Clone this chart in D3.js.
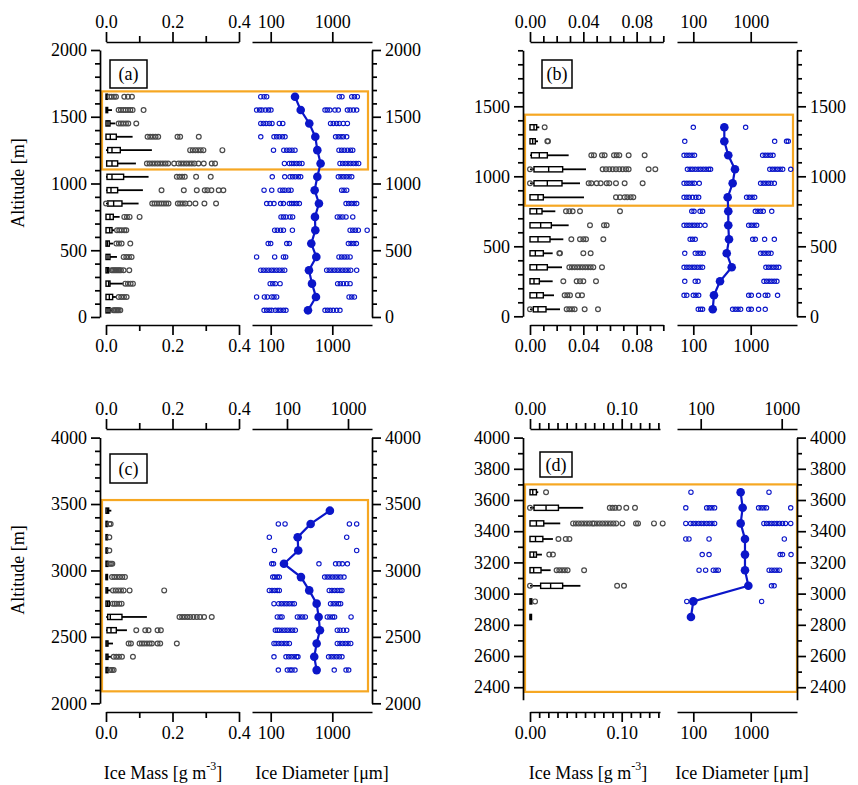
<!DOCTYPE html>
<html>
<head>
<meta charset="utf-8">
<script src="https://cdn.jsdelivr.net/npm/d3@7"></script>
<style>
  body { margin: 0; background: #fff; }
</style>
</head>
<body>
<svg id="fig" width="858" height="785"></svg>
<script>
// ---------------- Panel (a) ----------------
const aAltitude = [1650,1550,1450,1350,1250,1150,1050,950,850,750,650,550,450,350,250,150,50];
// ice mass box stats per level: [min, q1, median, q3, whisker max]
const aMassBox = [
  [0,0,0.002,0.004,0.006],[0,0,0.002,0.005,0.018],[0,0,0.006,0.012,0.028],[0,0,0.013,0.031,0.080],
  [0,0.005,0.018,0.043,0.138],[0,0.002,0.018,0.035,0.090],[0,0.003,0.018,0.053,0.128],[0,0.003,0.015,0.035,0.111],
  [0,0.005,0.023,0.048,0.098],[0,0,0.012,0.022,0.041],[0,0,0.011,0.018,0.025],[0,0,0.004,0.010,0.021],
  [0,0,0.006,0.012,0.033],[0,0,0.004,0.008,0.014],[0,0,0.008,0.012,0.053],[0,0,0.010,0.020,0.030],[0,0,0.006,0.012,0.018]
];
const aMassOut = [
  [0.011,0.017,0.024,0.030,0.055,0.066,0.078],
  [0.038,0.045,0.052,0.059,0.066,0.073,0.080,0.113],
  [0.038,0.045,0.052,0.060,0.067,0.091],
  [0.125,0.133,0.141,0.149,0.157,0.215,0.223,0.279],
  [0.253,0.261,0.269,0.277,0.285,0.293,0.350],
  [0.123,0.131,0.139,0.147,0.155,0.163,0.171,0.179,0.187,0.205,0.218,0.226,0.234,0.242,0.250,0.258,0.266,0.278,0.294,0.318,0.328],
  [0.213,0.221,0.229,0.237,0.271,0.315],
  [0.167,0.234,0.273,0.297,0.305,0.317,0.339,0.353],
  [0,0.139,0.146,0.153,0.160,0.167,0.174,0.181,0.188,0.216,0.223,0.231,0.239,0.251,0.269,0.296,0.331],
  [0.055,0.063,0.071,0.101],
  [0.033,0.040,0.047,0.055,0.061],
  [0.031,0.039,0.047,0.073],
  [0.053,0.061,0.069,0.077],
  [0.017,0.021,0.025,0.029,0.033,0.037,0.041,0.045,0.053,0.070],
  [0.058,0.066,0.074,0.081],
  [0.038,0.046,0.054,0.062],
  [0.022,0.026,0.030,0.034,0.038,0.043]
];
const aDiamMedian = [248,307,423,530,571,646,571,517,607,523,530,456,550,418,468,543,403];
const aDiamOut = [
  [69,78,86,1299,1436,2069,2284,2550],
  [59,66,72,82,92,101,761,828,914,1103,1252,1757,1944,2201,2487],
  [69,76,84,95,105,138,157,937,1036,1175,1299,1510,1757],
  [69,113,125,138,155,171,1131,1252,1385,1510,1713],
  [111,163,182,201,222,248,1283,1419,1569,1757,1968,2148],
  [167,201,219,239,264,292,322,1332,1473,1629,1801,1992,2201,2430,2678],
  [106,169,206,227,251,281,307,1252,1385,1530,1692,1871,2069],
  [78,104,142,157,171,194,214,1419,1549,1713],
  [86,98,113,145,161,201,219,239,264,292,1670,1847,2043,2256,2487],
  [147,161,177,206,227,1205,1332,1473,1670,2148],
  [116,128,145,161,225,1944,2148,2371,2645,3680],
  [91,100,182,201,1824,2017,2228,2460],
  [59,116,161,175,1283,1419,1569,1735,1944],
  [69,76,84,93,103,113,125,138,153,169,810,892,985,1089,1205,1332,1473,1629,1801,1992,2487],
  [98,108,119,142,1221,1349,1510,1713,1944],
  [59,79,88,104,113,125,1871,2069,2284],
  [78,86,95,104,119,132,145,161,177,761,838,925,1036,1175,1332]
];
const aCloudLayer = [1105, 1690];
const aAltTicks = [0,500,1000,1500,2000];

// ---------------- Panel (b) ----------------
const bAltitude = [1350,1250,1150,1050,950,850,750,650,550,450,350,250,150,50];
const bMassBox = [
  [0,0,0.003,0.005,0.007],[0,0,0.002,0.004,0.006],[0,0.001,0.007,0.013,0.029],[0,0.003,0.014,0.0245,0.042],
  [0,0.003,0.013,0.024,0.0375],[0,0,0.006,0.010,0.0405],[0,0,0.005,0.009,0.019],[0,0,0.008,0.016,0.029],
  [0,0,0.006,0.015,0.025],[0,0,0.004,0.010,0.017],[0,0,0.005,0.013,0.024],[0,0,0.003,0.007,0.017],
  [0,0,0.005,0.010,0.018],[0,0.0025,0.006,0.012,0.0225]
];
const bMassOut = [
  [0.011],
  [0.013,0.0135],
  [0.046,0.048,0.054,0.056,0.063,0.065,0.067,0.074,0.086],
  [0,0.0545,0.057,0.0595,0.062,0.0645,0.067,0.0695,0.072,0.074,0.089,0.094],
  [0,0.044,0.046,0.050,0.053,0.0575,0.0595,0.0645,0.071,0.0845],
  [0.0645,0.0675,0.071,0.073,0.0755,0.0775],
  [0.027,0.0295,0.032,0.0375,0.0675],
  [0.045,0.0555,0.0575],
  [0.031,0.0375,0.040,0.042,0.055],
  [0.022,0.0225,0.040,0.0455],
  [0.0295,0.0315,0.0335,0.0355,0.0375,0.0395,0.0415,0.0435,0.0455,0.0475,0.054],
  [0.025,0.035,0.0375,0.040,0.0495],
  [0.026,0.028,0.030,0.036,0.039],
  [0,0.0275,0.0295,0.0315,0.0335,0.041,0.051]
];
const bDiamMedian = [347,347,407,532,485,397,407,407,419,382,467,292,229,218];
const bDiamOut = [
  [100,816],
  [71,2614,4211,4511],
  [69,77,85,95,105,1613,1791,1988,2207,2450],
  [79,88,97,108,121,134,149,166,185,200,2150,2386,2648,2938,3256,3609,4978],
  [69,77,85,95,105,127,1488,1655,1838,2041,2265,2580],
  [69,77,85,97,111,124,848,946,1055,1172],
  [94,103,131,145,1203,1336,1488,1655,2325],
  [69,77,85,95,105,117,131,160,922,1024,1142,1268],
  [88,97,108,1083,1203,1745,2580],
  [71,108,121,134,149,1488,1655,1838,2041,2265],
  [69,77,85,95,105,117,131,145,1838,2041,2265,2513,2790,3095],
  [71,108,121,1700,1887,2094,2325,2580,2862],
  [69,77,100,111,124,922,1024,1372,1791,1988,2938],
  [122,134,145,484,539,600,668,922,1024,1372,1791]
];
const bCloudLayer = [790, 1440];
const bAltTicks = [0,500,1000,1500];

// ---------------- Panel (c) ----------------
const cAltitude = [3450,3350,3250,3150,3050,2950,2850,2750,2650,2550,2450,2350,2250];
const cMassBox = [
  [0,0,0.004,0.008,0.016],[0,0,0.002,0.004,0.006],[0,0,0.002,0.004,0.005],[0,0,0.002,0.004,0.005],
  [0,0,0.003,0.006,0.008],[0,0,0.001,0.002,0.003],[0,0,0.003,0.005,0.015],[0,0,0.005,0.010,0.015],
  [0,0.005,0.013,0.048,0.123],[0,0.003,0.015,0.031,0.063],[0,0,0.003,0.006,0.021],[0,0,0.003,0.006,0.015],
  [0,0,0.003,0.006,0.009]
];
const cMassOut = [
  [],
  [0.010,0.014],
  [0.010],
  [0.010],
  [0.011,0.015,0.019],
  [0.018,0.025,0.033,0.041,0.049,0.057],
  [0.021,0.029,0.037,0.045,0.053,0.071,0.175],
  [0.020,0.026,0.032,0.040,0.047],
  [0.221,0.229,0.237,0.245,0.253,0.263,0.273,0.283,0.295,0.318],
  [0.091,0.118,0.128,0.155,0.165],
  [0.068,0.075,0.101,0.108,0.115,0.123,0.131,0.138,0.155,0.163,0.213],
  [0.023,0.031,0.039,0.048,0.081],
  [0.013,0.018,0.023]
];
const cDiamMedian = [914,445,274,280,164,310,422,557,600,630,557,509,557];
const cDiamOut = [
  [],
  [133,171,1894,2487],
  [95,1713],
  [115,2487],
  [104,111,607,1131,1283,1454,1757],
  [108,116,128,138,751,828,914,1010,1117,1235,1366,1549],
  [95,105,116,128,138,892,985,1089,1205,1332,1436],
  [113,135,149,165,182,201,222,242,937,1036,1145,1267,1366],
  [128,142,153,271,299,330,365,828,914,1010,1089,2017],
  [119,128,138,153,169,186,206,227,251,1205,1332,1510,1713],
  [113,122,135,149,165,182,201,1205,1332,1473,1629,1801,1992],
  [113,177,196,216,239,264,277,870,961,1062,1175,1299,1436],
  [133,186,206,222,248,1075,1670,1847]
];
const cCloudLayer = [2090, 3530];
const cAltTicks = [2000,2500,3000,3500,4000];

// ---------------- Panel (d) ----------------
const dAltitude = [3650,3550,3450,3350,3250,3150,3050,2950,2850];
const dMassBox = [
  [0,0,0.003,0.007,0.009],[0,0.0044,0.0175,0.031,0.058],[0,0,0.007,0.015,0.033],[0,0,0.006,0.014,0.025],
  [0,0,0.004,0.007,0.013],[0,0,0.004,0.012,0.0225],[0,0.0116,0.0225,0.0356,0.055],[0,0,0.001,0.002,0.003],
  [0,0,0.0003,0.0006,0.001]
];
const dMassOut = [
  [0.0175],
  [0,0.087,0.090,0.093,0.097,0.105,0.1145],
  [0.047,0.050,0.053,0.056,0.059,0.062,0.065,0.068,0.070,0.073,0.076,0.079,0.082,0.085,0.088,0.091,0.094,0.1007,0.1156,0.1178,0.1352,0.1447],
  [0.031,0.039,0.043],
  [0.021,0.025],
  [0.029,0.032,0.035,0.038,0.041,0.059],
  [0,0.095,0.1025],
  [0.0055],
  []
];
const dDiamMedian = [668,724,668,795,795,795,910,100,91];
const dDiamOut = [
  [91,2083],
  [74,171,190,211,235,1372,1525,1697,1887,4978],
  [74,90,100,111,124,138,153,171,190,211,235,1697,1887,2094,2325,2580,2862,3182,3583,4035,4978],
  [74,84,188,3850],
  [143,188,3256,3583,5040],
  [126,164,223,248,273,2094,2325,2580,2862,3182],
  [2302,2560],
  [77,1552],
  []
];
const dCloudLayer = [2370, 3700];
const dAltTicks = [2400,2600,2800,3000,3200,3400,3600,3800,4000];

// shared tick labels
const massTicksWide = [0, 0.2, 0.4];
const massTicksFine = [0, 0.04, 0.08];
const massTicksD = [0, 0.10];
const diamTicks = [100, 1000];

// ---------------- drawing ----------------
const FONT = "'Liberation Serif', 'Times New Roman', Times, 'DejaVu Serif', serif";
const BLUE = "#0b16c9";
const GREY = "#4a4a4a";
const ORANGE = "#f6a722";
const svg = d3.select("#fig").style("font-family", FONT);

function styleAxis(g) {
  g.attr("font-family", FONT).attr("font-size", 18);
  g.selectAll("path, line").attr("stroke", "#000").attr("stroke-width", 1.7);
  g.selectAll("text").attr("font-size", 18).attr("fill", "#000");
}

function drawAxis(parent, orient, scale, pos, major, minor, fmt, majorLen, minorLen) {
  const make = { left: d3.axisLeft, right: d3.axisRight, top: d3.axisTop, bottom: d3.axisBottom }[orient];
  const vertical = orient === "left" || orient === "right";
  const g = parent.append("g").attr("transform", vertical ? `translate(${pos},0)` : `translate(0,${pos})`);
  g.call(make(scale).tickValues(major).tickSizeInner(majorLen).tickSizeOuter(0).tickPadding(4).tickFormat(fmt));
  if (minor.length) {
    const gm = g.append("g").call(make(scale).tickValues(minor).tickSizeInner(minorLen).tickSizeOuter(0).tickFormat(""));
    gm.select(".domain").remove();
    gm.attr("font-family", null).attr("font-size", null);
  }
  styleAxis(g);
  return g;
}

function logAxisScale(p100, p1000, ext) {
  const s = d3.scaleLog().domain([100, 1000]).range([p100, p1000]);
  return s.copy().domain([s.invert(ext[0]), s.invert(ext[1])]).range(ext);
}

function drawPanel(L, D) {
  const g = svg.append("g");
  const y = d3.scaleLinear().domain(L.yDom).range(L.yPx);
  const xmBase = d3.scaleLinear().domain(L.massRef).range(L.massRefPx);
  const xm = xmBase.copy().domain([0, xmBase.invert(L.massEnd)]).range([L.massRefPx[0], L.massEnd]);
  const xd = logAxisScale(L.diamBot[0], L.diamBot[1], L.diamExt);
  const xdTop = logAxisScale(L.diamTop[0], L.diamTop[1], L.diamExt);

  // cloud layer highlight
  g.append("rect")
    .attr("x", L.left + 2).attr("y", y(D.layer[1]))
    .attr("width", L.boxRight - L.left - 2).attr("height", y(D.layer[0]) - y(D.layer[1]))
    .attr("fill", "none").attr("stroke", ORANGE).attr("stroke-width", 2.2);

  const rows = D.alt.map((alt, i) => ({ alt, box: D.massBox[i] }));

  // ice mass box plots
  const bx = g.append("g").attr("stroke", "#000").attr("fill", "none");
  bx.selectAll(".wl").data(rows).join("line")
    .attr("x1", d => xm(d.box[0])).attr("x2", d => xm(d.box[1]))
    .attr("y1", d => y(d.alt)).attr("y2", d => y(d.alt)).attr("stroke-width", 1.6);
  bx.selectAll(".wh").data(rows).join("line")
    .attr("x1", d => xm(d.box[3])).attr("x2", d => xm(d.box[4]))
    .attr("y1", d => y(d.alt)).attr("y2", d => y(d.alt)).attr("stroke-width", 1.8);
  bx.selectAll("rect").data(rows).join("rect")
    .attr("x", d => xm(d.box[1])).attr("y", d => y(d.alt) - 2.6)
    .attr("width", d => Math.max(1.5, xm(d.box[3]) - xm(d.box[1]))).attr("height", 5.2)
    .attr("stroke-width", 1.4);
  bx.selectAll(".md").data(rows).join("line")
    .attr("x1", d => xm(d.box[2])).attr("x2", d => xm(d.box[2]))
    .attr("y1", d => y(d.alt) - 2.6).attr("y2", d => y(d.alt) + 2.6).attr("stroke-width", 1.4);

  // ice mass outliers
  const mOut = D.massOut.flatMap((arr, i) => arr.map(v => ({ alt: D.alt[i], v })));
  g.append("g").selectAll("circle").data(mOut).join("circle")
    .attr("cx", d => xm(d.v)).attr("cy", d => y(d.alt)).attr("r", 2.4)
    .attr("fill", "none").attr("stroke", GREY).attr("stroke-width", 1.2);

  // ice diameter outliers
  const dOut = D.diamOut.flatMap((arr, i) => arr.map(v => ({ alt: D.alt[i], v })));
  g.append("g").selectAll("circle").data(dOut).join("circle")
    .attr("cx", d => xd(d.v)).attr("cy", d => y(d.alt)).attr("r", 2.2)
    .attr("fill", "none").attr("stroke", BLUE).attr("stroke-width", 1.1);

  // median ice diameter profile
  const med = D.alt.map((alt, i) => ({ alt, v: D.diamMedian[i] }));
  g.append("path").datum(med)
    .attr("d", d3.line().x(d => xd(d.v)).y(d => y(d.alt)))
    .attr("fill", "none").attr("stroke", BLUE).attr("stroke-width", 2.2);
  g.append("g").selectAll("circle").data(med).join("circle")
    .attr("cx", d => xd(d.v)).attr("cy", d => y(d.alt)).attr("r", 4.3).attr("fill", BLUE);

  // altitude axes
  const yMinor = d3.range(L.yMinorStart, L.yDom[1] + 1, 100).filter(v => !D.altTicks.includes(v));
  drawAxis(g, "left", y, L.left, D.altTicks, yMinor, d => d, 9, 5);
  drawAxis(g, "right", y, L.right, D.altTicks, yMinor, d => d, 9, 5);

  // mass axes
  const mFmt = d3.format(L.massFmt);
  drawAxis(g, "top", xm, L.axTop, L.massMajor, L.massMinor, mFmt, 10, 6);
  drawAxis(g, "bottom", xm, L.axBot, L.massMajor, L.massMinor, mFmt, 10, 6);

  // diameter axes
  drawAxis(g, "top", xdTop, L.axTop, diamTicks, [], d => d, 10, 0);
  drawAxis(g, "bottom", xd, L.axBot, diamTicks, [], d => d, 10, 0);

  // panel tag
  g.append("rect").attr("x", L.tag[0]).attr("y", L.tag[1]).attr("width", L.tag[2]).attr("height", L.tag[3])
    .attr("fill", "#fff").attr("stroke", "#000").attr("stroke-width", 1.5);
  g.append("text").attr("x", L.tag[0] + L.tag[2] / 2).attr("y", L.tag[1] + L.tag[3] / 2 + 6)
    .attr("text-anchor", "middle").attr("font-size", 18).text(L.label);
}

const range = (a, b, s) => d3.range(a, b + s / 2, s).map(v => +v.toFixed(3));

drawPanel({
  label: "(a)", left: 100, right: 372, boxRight: 368, yDom: [0, 2000], yPx: [317, 50], yMinorStart: 0,
  axTop: 42, axBot: 325, massRef: [0, 0.4], massRefPx: [106, 239], massEnd: 239,
  massMajor: massTicksWide, massMinor: [0.1, 0.3], massFmt: ".1f",
  diamBot: [270.7, 332.3], diamTop: [270.7, 332.3], diamExt: [252, 372], tag: [110, 60, 37, 28]
}, { alt: aAltitude, massBox: aMassBox, massOut: aMassOut, diamMedian: aDiamMedian, diamOut: aDiamOut, layer: aCloudLayer, altTicks: aAltTicks });

drawPanel({
  label: "(b)", left: 523, right: 797, boxRight: 793, yDom: [0, 1900], yPx: [316.3, 50.3], yMinorStart: 0,
  axTop: 42, axBot: 325, massRef: [0, 0.1], massRefPx: [530, 663.3], massEnd: 663.3,
  massMajor: massTicksFine, massMinor: range(0.01, 0.1, 0.01).filter(v => !massTicksFine.includes(v)), massFmt: ".2f",
  diamBot: [693.3, 750.7], diamTop: [693.3, 750.7], diamExt: [677, 797], tag: [542, 60, 30, 28]
}, { alt: bAltitude, massBox: bMassBox, massOut: bMassOut, diamMedian: bDiamMedian, diamOut: bDiamOut, layer: bCloudLayer, altTicks: bAltTicks });

drawPanel({
  label: "(c)", left: 100, right: 372, boxRight: 368, yDom: [2000, 4000], yPx: [703.3, 437.6], yMinorStart: 2000,
  axTop: 429, axBot: 712, massRef: [0, 0.4], massRefPx: [106, 239], massEnd: 239,
  massMajor: massTicksWide, massMinor: [0.1, 0.3], massFmt: ".1f",
  diamBot: [270.7, 332.3], diamTop: [287, 348], diamExt: [252, 372], tag: [110, 454, 37, 29]
}, { alt: cAltitude, massBox: cMassBox, massOut: cMassOut, diamMedian: cDiamMedian, diamOut: cDiamOut, layer: cCloudLayer, altTicks: cAltTicks });

drawPanel({
  label: "(d)", left: 523, right: 797, boxRight: 797, yDom: [2320, 4000], yPx: [699.7, 437.6], yMinorStart: 2400,
  axTop: 429, axBot: 712, massRef: [0, 0.1], massRefPx: [530, 621.7], massEnd: 660,
  massMajor: massTicksD, massMinor: range(0.01, 0.14, 0.01).filter(v => !massTicksD.includes(v)), massFmt: ".2f",
  diamBot: [693.3, 750.7], diamTop: [700.7, 781.7], diamExt: [677, 797], tag: [540, 452, 32, 25]
}, { alt: dAltitude, massBox: dMassBox, massOut: dMassOut, diamMedian: dDiamMedian, diamOut: dDiamOut, layer: dCloudLayer, altTicks: dAltTicks });

// axis titles
function altitudeTitle(cy) {
  svg.append("text").attr("transform", `translate(24,${cy}) rotate(-90)`)
    .attr("text-anchor", "middle").attr("font-size", 18).text("Altitude [m]");
}
altitudeTitle(183);
altitudeTitle(570);

function bottomTitles(massX, diamX) {
  const t = svg.append("text").attr("x", massX).attr("y", 779).attr("text-anchor", "middle").attr("font-size", 18);
  t.append("tspan").text("Ice Mass [g m");
  t.append("tspan").attr("font-size", 12).attr("dy", -9).text("-3");
  t.append("tspan").attr("dy", 9).text("]");
  svg.append("text").attr("x", diamX).attr("y", 779).attr("text-anchor", "middle").attr("font-size", 18)
    .text("Ice Diameter [\u03bcm]");
}
bottomTitles(163, 322);
bottomTitles(588, 742);

svg.selectAll("text").style("font-family", FONT).attr("fill", "#000");
</script>
</body>
</html>
